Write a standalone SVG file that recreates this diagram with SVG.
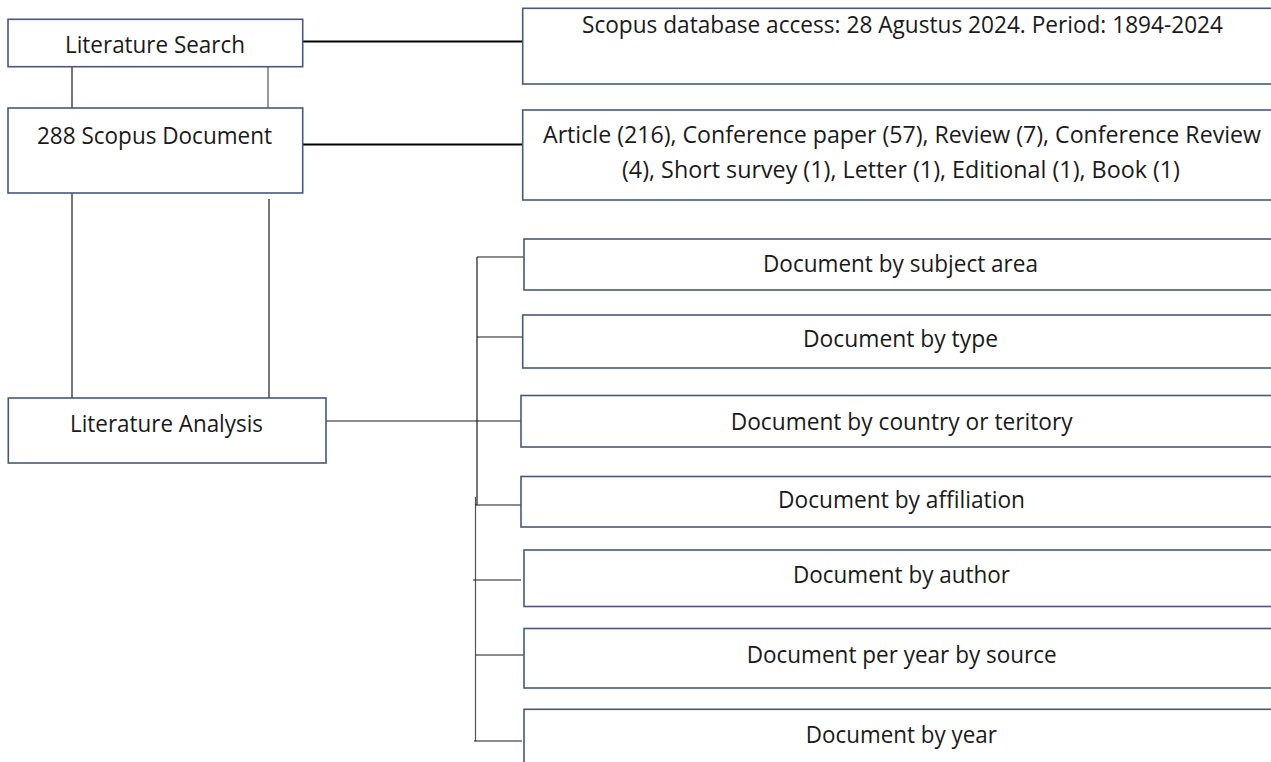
<svg xmlns="http://www.w3.org/2000/svg" width="1271" height="762" viewBox="0 0 1271 762">
<style>
.box{fill:#ffffff;stroke:#46597a;stroke-width:1.6}
.lbl{font-family:"Open Sans","Liberation Sans",sans-serif;font-size:23px;fill:#1a1a1a;text-anchor:middle}
.thick{stroke:#000;stroke-width:2.2;fill:none}
.thin{stroke:#1a1a1a;stroke-width:1.2;fill:none}
.gray{stroke:#555;stroke-width:1.2;fill:none}
</style>
<rect x="0" y="0" width="1271" height="762" fill="#ffffff"/>
<g id="connectors">
  <line class="thick" x1="302.7" y1="41.5" x2="522.7" y2="41.5"/>
  <line class="thick" x1="302.7" y1="144.5" x2="522.7" y2="144.5"/>
  <line class="thin" x1="72" y1="66.7" x2="72" y2="108"/>
  <line class="gray" x1="268" y1="66.7" x2="268" y2="108"/>
  <line class="thin" x1="72" y1="193" x2="72" y2="398"/>
  <line class="thin" x1="269" y1="199" x2="269" y2="398"/>
  <line class="thin" x1="326" y1="421" x2="521" y2="421"/>
  <line class="thin" x1="477" y1="257" x2="477" y2="505"/>
  <line class="gray" x1="475.5" y1="497" x2="475.5" y2="741"/>
  <line class="thin" x1="477" y1="257" x2="524" y2="257"/>
  <line class="thin" x1="477" y1="337" x2="523" y2="337"/>
  <line class="thin" x1="475" y1="505" x2="521" y2="505"/>
  <line class="thin" x1="473" y1="580" x2="521" y2="580"/>
  <line class="thin" x1="475.5" y1="655" x2="524" y2="655"/>
  <line class="thin" x1="474" y1="741" x2="522" y2="741"/>
</g>
<g id="literature-search">
  <rect class="box" x="8" y="19.3" width="294.7" height="47.4"/>
  <text class="lbl" x="155" y="53" textLength="180" lengthAdjust="spacingAndGlyphs">Literature Search</text>
</g>
<g id="scopus-document">
  <rect class="box" x="8" y="108" width="294.7" height="85"/>
  <text class="lbl" x="154.5" y="144" textLength="235" lengthAdjust="spacingAndGlyphs">288 Scopus Document</text>
</g>
<g id="literature-analysis">
  <rect class="box" x="8.3" y="398" width="317.7" height="65"/>
  <text class="lbl" x="166.5" y="432" textLength="193" lengthAdjust="spacingAndGlyphs">Literature Analysis</text>
</g>
<g id="database-access">
  <rect class="box" x="522.7" y="8.3" width="770" height="75.7"/>
  <text class="lbl" x="902.5" y="33.3" textLength="641" lengthAdjust="spacingAndGlyphs">Scopus database access: 28 Agustus 2024. Period: 1894-2024</text>
</g>
<g id="document-types">
  <rect class="box" x="522.7" y="110" width="770" height="90"/>
  <text class="lbl" x="902" y="142.7" textLength="718" lengthAdjust="spacingAndGlyphs">Article (216), Conference paper (57), Review (7), Conference Review</text>
  <text class="lbl" x="901" y="178.3" textLength="558" lengthAdjust="spacingAndGlyphs">(4), Short survey (1), Letter (1), Editional (1), Book (1)</text>
</g>
<g id="by-subject-area">
  <rect class="box" x="524" y="239" width="770" height="51"/>
  <text class="lbl" x="900.5" y="272.3" textLength="275" lengthAdjust="spacingAndGlyphs">Document by subject area</text>
</g>
<g id="by-type">
  <rect class="box" x="522.7" y="315" width="770" height="53"/>
  <text class="lbl" x="900.5" y="346.7" textLength="195" lengthAdjust="spacingAndGlyphs">Document by type</text>
</g>
<g id="by-country">
  <rect class="box" x="521" y="395.5" width="770" height="51.5"/>
  <text class="lbl" x="901.7" y="430" textLength="342" lengthAdjust="spacingAndGlyphs">Document by country or teritory</text>
</g>
<g id="by-affiliation">
  <rect class="box" x="521" y="476.5" width="770" height="50.5"/>
  <text class="lbl" x="901.5" y="508.3" textLength="247" lengthAdjust="spacingAndGlyphs">Document by affiliation</text>
</g>
<g id="by-author">
  <rect class="box" x="524" y="550" width="770" height="56.5"/>
  <text class="lbl" x="901.5" y="583.3" textLength="217" lengthAdjust="spacingAndGlyphs">Document by author</text>
</g>
<g id="per-year-by-source">
  <rect class="box" x="524" y="628.5" width="770" height="59.5"/>
  <text class="lbl" x="901.7" y="662.7" textLength="310" lengthAdjust="spacingAndGlyphs">Document per year by source</text>
</g>
<g id="by-year">
  <rect class="box" x="524" y="709.3" width="770" height="70"/>
  <text class="lbl" x="901.3" y="743.3" textLength="191" lengthAdjust="spacingAndGlyphs">Document by year</text>
</g>
</svg>
